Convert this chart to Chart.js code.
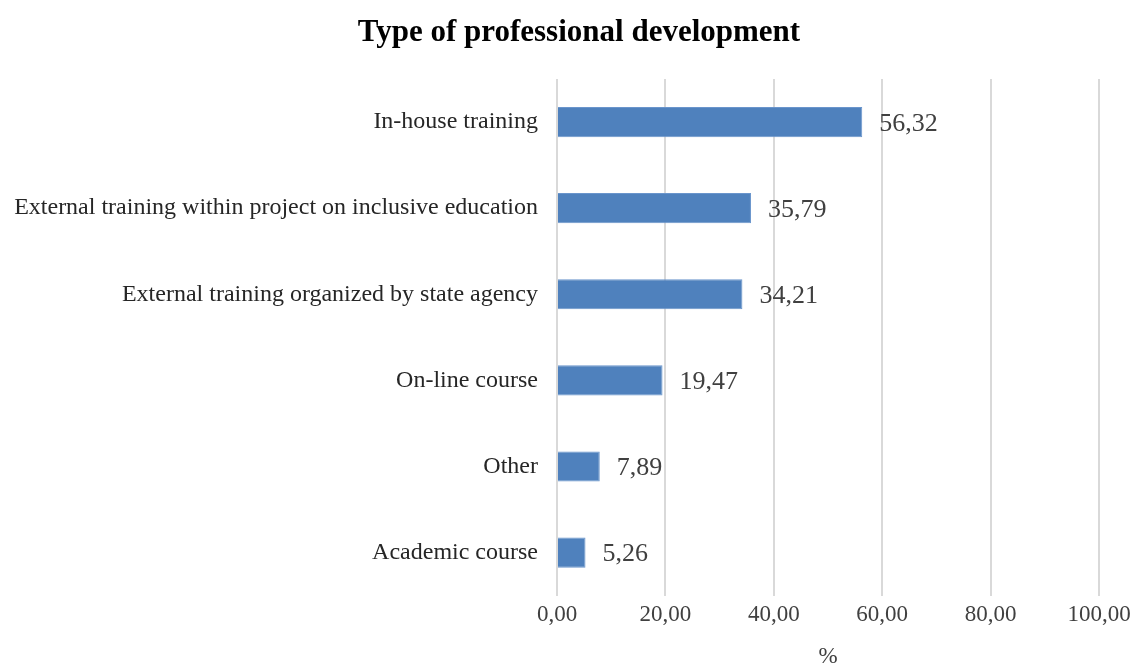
<!DOCTYPE html>
<html><head><meta charset="utf-8">
<script src="https://cdn.jsdelivr.net/npm/chart.js@4/dist/chart.umd.min.js"></script>
<style>html,body{margin:0;padding:0;background:#fff}#wrap{width:1134px;height:668px}</style>
</head><body><div id="wrap"><canvas id="c" width="1134" height="668"></canvas></div>
<script>
const categories = ["In-house training","External training within project on inclusive education","External training organized by state agency","On-line course","Other","Academic course"];
const values = [56.32, 35.79, 34.21, 19.47, 7.89, 5.26];
const xTicks = [0,20,40,60,80,100];
const titleText = 'Type of professional development';
const fmt = v => Number(v).toFixed(2).replace('.', ',');
const FONT = "'Liberation Serif','Times New Roman',serif";

const valueLabels = {
  id: 'valueLabels',
  afterDatasetsDraw(chart) {
    const ctx = chart.ctx;
    const meta = chart.getDatasetMeta(0);
    ctx.save();
    ctx.font = "26px " + FONT;
    ctx.fillStyle = '#404040';
    ctx.textAlign = 'left';
    ctx.textBaseline = 'middle';
    meta.data.forEach((bar, i) => {
      ctx.fillText(fmt(values[i]), bar.x + 17, bar.y + 2);
    });
    ctx.restore();
  }
};

const offsetTitle = {
  id: 'offsetTitle',
  afterDraw(chart) {
    const ctx = chart.ctx;
    ctx.save();
    ctx.font = "bold 31px " + FONT;
    ctx.fillStyle = '#000';
    ctx.textAlign = 'center';
    ctx.textBaseline = 'middle';
    ctx.fillText(titleText, 579, 33);
    ctx.restore();
  }
};

new Chart(document.getElementById('c'), {
  type: 'bar',
  data: {
    labels: categories,
    datasets: [{
      data: values,
      backgroundColor: '#4F81BD',
      borderColor: '#6A95CC',
      borderWidth: 1,
      categoryPercentage: 0.7,
      barPercentage: 0.5
    }]
  },
  options: {
    indexAxis: 'y',
    responsive: false,
    animation: false,
    layout: { padding: { left: 10, right: 35, top: 79, bottom: 0 } },
    plugins: {
      legend: { display: false },
      tooltip: { enabled: false },
      title: { display: false }
    },
    scales: {
      x: {
        min: 0, max: 100,
        afterBuildTicks(scale) { scale.ticks = xTicks.map(v => ({ value: v })); },
        afterFit(scale) { scale.paddingLeft = 0; scale.paddingRight = 0; },
        ticks: {
          callback: v => fmt(v),
          font: { family: FONT, size: 23, lineHeight: 1.1 },
          color: '#404040',
          padding: 7
        },
        grid: { color: '#d9d9d9', lineWidth: 2, drawTicks: false },
        border: { display: false },
        title: {
          display: true, text: '%',
          font: { family: FONT, size: 23, lineHeight: 1.0 },
          color: '#404040',
          padding: { top: 10, bottom: 0 }
        }
      },
      y: {
        grid: { display: false },
        border: { display: false },
        ticks: {
          font: { family: FONT, size: 24 },
          color: '#262626',
          padding: 11
        },
        afterFit(scale) { scale.width = 547; }
      }
    }
  },
  plugins: [valueLabels, offsetTitle]
});
</script></body></html>
